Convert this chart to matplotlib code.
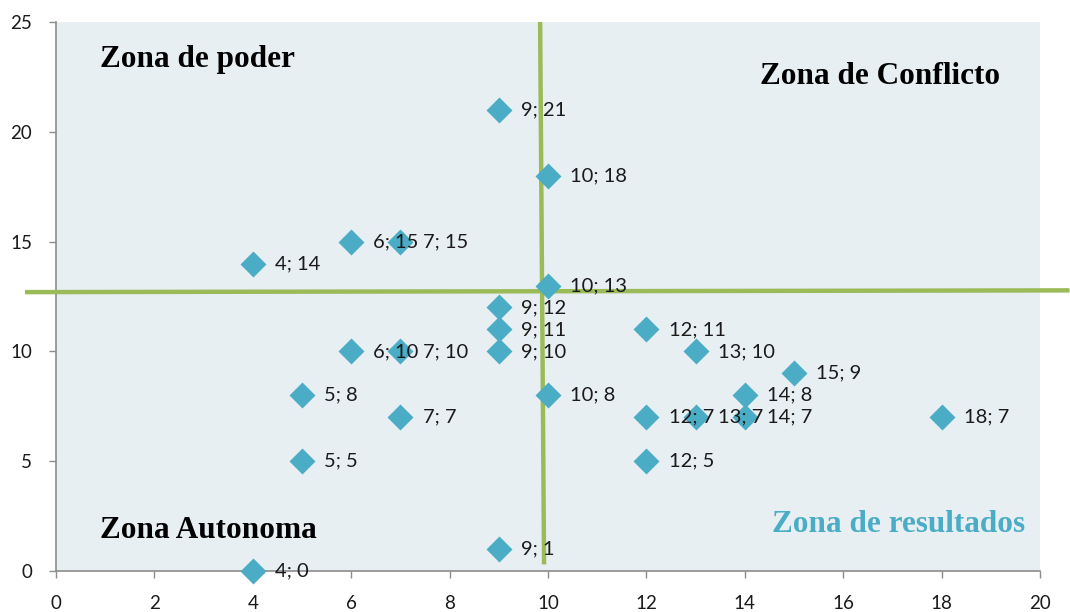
import matplotlib

matplotlib.use("Agg")
import matplotlib.pyplot as plt

# puntos (x; y) del mapa de actores
xs = [9, 10, 6, 7, 4, 10, 9, 9, 12, 6, 7, 9, 13, 15, 5, 10, 14, 7, 12, 13, 14, 18, 5, 12, 9, 4]
ys = [21, 18, 15, 15, 14, 13, 12, 11, 11, 10, 10, 10, 10, 9, 8, 8, 8, 7, 7, 7, 7, 7, 5, 5, 1, 0]

# divisores de zona
x_split = 9.88
y_split = 12.7

zones = ["Zona de poder", "Zona de Conflicto", "Zona Autonoma", "Zona de resultados"]

BLUE = "#4BACC6"
GREEN = "#9BBB59"
BG = "#E8EFF3"

fig = plt.figure(figsize=(10.7, 6.12), dpi=100)
ax = fig.add_axes((0.0523, 0.067, 0.9197, 0.897))
ax.set_facecolor(BG)
ax.set_xlim(0, 20)
ax.set_ylim(0, 25)
ax.set_xticks(range(0, 21, 2))
ax.set_yticks(range(0, 26, 5))
for s in ("top", "right"):
    ax.spines[s].set_visible(False)
for s in ("left", "bottom"):
    ax.spines[s].set_color("#8c8c8c")
    ax.spines[s].set_linewidth(1.2)
ax.tick_params(labelsize=13.5, colors="#1a1a1a", length=5, width=1,
               color="#8c8c8c")
ax.tick_params(axis="x", pad=12)
ax.tick_params(axis="y", pad=12)
for lbl in ax.get_xticklabels() + ax.get_yticklabels():
    lbl.set_family("Lato")

# green quadrant lines (horizontal one runs past the axes)
ax.plot([x_split - 0.04, x_split + 0.04], [25, 0.3], color=GREEN, lw=3.2,
        zorder=3, solid_capstyle="butt", clip_on=False)
ax.plot([-0.63, 20.6], [y_split, y_split + 0.08], color=GREEN, lw=3.2,
        zorder=3, solid_capstyle="butt", clip_on=False)

ax.plot(xs, ys, "D", color=BLUE, ms=13, mec="none", zorder=4, clip_on=False)
for x, y in zip(xs, ys):
    ax.annotate(f"{x}; {y}", (x, y), xytext=(16, 0), textcoords="offset points",
                va="center", ha="left", fontsize=14.5, family="Lato",
                color="#1a1a1a", zorder=5)

zfont = dict(family="Liberation Serif", fontweight="bold", fontsize=22.5)
ax.text(0.9, 23.3, zones[0], color="black", va="center", ha="left", **zfont)
ax.text(16.75, 22.5, zones[1], color="black", va="center", ha="center", **zfont)
ax.text(0.9, 1.85, zones[2], color="black", va="center", ha="left", **zfont)
ax.text(19.7, 2.1, zones[3], color=BLUE, va="center", ha="right", **zfont)

fig.savefig("out.png")
